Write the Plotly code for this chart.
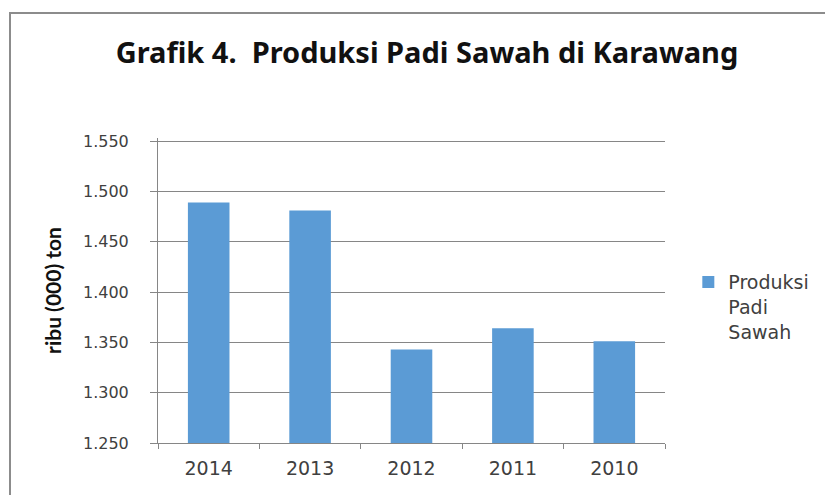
import plotly.graph_objects as go

years = ["2014", "2013", "2012", "2011", "2010"]
produksi = [1489, 1481, 1343, 1364, 1351]  # ribu ton
y_ticks = [1250, 1300, 1350, 1400, 1450, 1500, 1550]

BLUE = "#5b9bd5"
GREY = "#868686"
TXT = "#404040"

# page body has an 8px margin, so the figure is 8px smaller than the window
W, H = 825, 487
L, T, B = 150, 130, 52
PW = 507
PH = H - T - B

fig = go.Figure()
fig.add_trace(go.Bar(x=years, y=produksi, name="Produksi<br>Padi<br>Sawah",
                     marker=dict(color=BLUE, line=dict(width=0))))

fig.update_layout(
    width=W, height=H,
    margin=dict(l=L, r=W - L - PW, t=T, b=B),
    paper_bgcolor="white", plot_bgcolor="white",
    separators=",.",
    bargap=0.59,
    title=dict(text="<b>Grafik 4.  Produksi Padi Sawah di Karawang</b>",
               x=419 / W, xref="container", xanchor="center",
               y=1 - 45 / H, yref="container", yanchor="middle",
               font=dict(family="Noto Sans", size=29, color="#111111")),
    showlegend=True,
    legend=dict(x=1.046, xanchor="left", y=0.59, yanchor="top", valign="top",
                font=dict(family="DejaVu Sans", size=19, color=TXT),
                itemwidth=30, bgcolor="rgba(0,0,0,0)"),
    xaxis=dict(showline=True, linecolor=GREY, linewidth=1,
               ticks="outside", tickson="boundaries", ticklen=5, tickcolor=GREY,
               ticklabelstandoff=8,
               tickfont=dict(family="DejaVu Sans", size=19, color=TXT),
               showgrid=False),
    yaxis=dict(range=[1250, 1553], tickvals=y_ticks, tickformat=",d",
               showline=True, linecolor=GREY, linewidth=1,
               ticks="outside", ticklen=7, tickcolor=GREY,
               ticklabelstandoff=18,
               gridcolor=GREY, gridwidth=1, zeroline=False,
               tickfont=dict(family="DejaVu Sans", size=16, color=TXT),
               title=dict(text="<b>ribu (000) ton</b>", standoff=15,
                          font=dict(family="Lato", size=21, color="#111111"))),
)

# outer chart frame
fig.add_shape(type="rect", xref="paper", yref="paper",
              x0=(2 - L) / PW, x1=1.6, y0=-0.6, y1=(H - B - 5) / PH,
              line=dict(color="#8c8c8c", width=2), layer="below")

fig.write_html("out.html")
